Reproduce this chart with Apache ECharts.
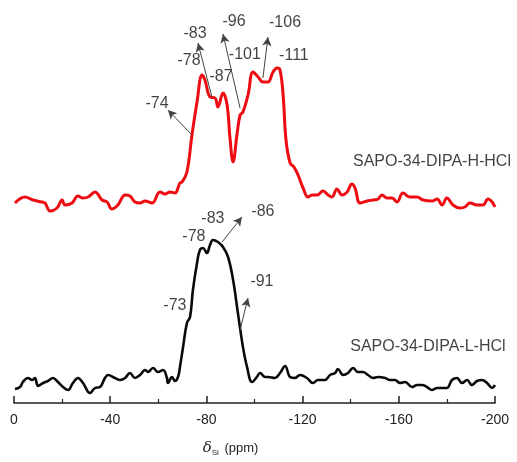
<!DOCTYPE html>
<html>
<head>
<meta charset="utf-8">
<script src="https://cdn.jsdelivr.net/npm/echarts@6/dist/echarts.min.js"></script>
<style>
html,body{margin:0;padding:0;background:#fff;}
#chart{width:517px;height:462px;}
</style>
</head>
<body>
<div id="chart"></div>
<script>
// 化学位移 (ppm) 和强度, 上面红线 H-HCl, 下面黑线 L-HCl
var redX = [-0.4,-4.6,-7.9,-11.6,-12.9,-15.0,-17.9,-20.0,-21.2,-24.1,-26.6,-28.7,-30.8,-33.7,-36.6,-38.7,-40.7,-43.2,-46.2,-48.2,-50.3,-52.4,-54.5,-57.4,-60.7,-62.8,-64.9,-66.9,-69.0,-69.9,-71.9,-74.0,-76.1,-78.2,-79.4,-81.5,-83.6,-84.8,-86.9,-88.6,-89.8,-91.1,-92.7,-94.0,-95.2,-97.3,-99.4,-101.5,-103.5,-105.6,-107.7,-109.4,-110.6,-111.9,-113.1,-114.8,-116.4,-118.1,-120.2,-122.3,-123.9,-126.0,-128.5,-130.6,-132.2,-134.3,-136.4,-138.5,-140.5,-141.8,-143.9,-146.8,-149.3,-151.4,-153.0,-155.1,-157.2,-159.3,-161.7,-164.7,-167.6,-170.1,-173.8,-175.9,-178.0,-180.0,-182.5,-185.4,-187.5,-189.6,-192.5,-195.0,-197.1,-198.8,-200.0];
var redY = [200,206,203,201,200,192,195,203,198,200,207,205,206,211,203,201,194,198,208,207,201,200,202,200,211,209,211,210,220,221,231,268,301,328,323,306,305,296,310,298,265,241,268,288,291,308,331,326,321,321,331,335,333,308,263,240,236,228,215,206,208,208,212,208,206,214,208,211,219,215,200,202,203,204,208,205,205,201,210,206,206,203,202,204,198,205,198,195,196,200,198,198,204,201,196];

var blackX = [-0.4,-2.5,-3.7,-5.8,-7.5,-8.7,-10.0,-12.1,-14.1,-16.2,-18.3,-20.4,-22.5,-24.5,-26.6,-28.7,-31.6,-33.7,-35.8,-37.8,-39.1,-42.0,-44.1,-46.2,-48.2,-50.3,-52.4,-54.5,-55.7,-57.8,-59.9,-62.0,-63.6,-64.0,-65.7,-66.9,-68.2,-69.0,-70.3,-71.9,-73.2,-74.4,-76.1,-77.3,-78.6,-80.2,-81.5,-82.7,-84.8,-86.9,-89.0,-91.1,-93.1,-95.2,-96.9,-99.0,-101.0,-102.3,-104.4,-105.6,-108.5,-110.6,-112.7,-114.8,-116.8,-118.9,-121.8,-124.3,-126.4,-129.3,-131.4,-133.5,-134.7,-136.8,-138.9,-141.0,-143.0,-145.1,-147.2,-149.3,-151.4,-154.3,-156.3,-158.4,-160.5,-162.6,-165.5,-167.6,-169.6,-171.7,-173.8,-175.9,-178.0,-180.0,-182.1,-184.2,-186.3,-188.4,-190.4,-192.5,-194.6,-196.7,-198.8,-200.0];
var blackY = [14,16,21,25,23,25,17,20,22,25,21,16,13,20,25,20,10,15,16,25,28,25,23,25,30,25,28,33,31,35,31,33,25,20,26,22,26,36,56,80,86,113,140,153,155,150,158,163,161,156,146,123,90,56,36,21,26,30,26,26,25,30,37,26,25,28,25,20,23,23,28,30,34,28,30,35,31,31,28,25,26,25,23,23,20,21,16,18,18,16,13,15,15,15,23,25,20,23,18,22,23,20,15,18];

// 峰的标注
var tagText = ['-74','-78','-83','-87','-96','-101','-106','-111','-78','-83','-86','-73','-91'];
var tagX = [-59.5,-72.8,-75.3,-86.1,-91.5,-96.0,-112.7,-116.4,-74.8,-82.7,-103.5,-66.9,-103.1];
var tagY = [299,342,369,326,381,348,380,347,166,184,191,97,121];

// 箭头 [起点x, 起点y, 终点x, 终点y]
var arrowFrom = [[-74.0,268],[-82.3,306],[-94.0,295],[-103.5,325],[-86.5,161],[-94.0,73]];
var arrowTo = [[-64.0,293],[-76.5,360],[-86.9,369],[-105.6,366],[-94.8,186],[-97.3,105]];

var sampleName = ['SAPO-34-DIPA-H-HCl','SAPO-34-DIPA-L-HCl'];
var sampleX = [-173.8,-172.1];
var sampleY = [241,56];

function pairs(xs, ys) {
    return xs.map(function (x, i) { return [x, ys[i]]; });
}

var myChart = echarts.init(document.getElementById('chart'));

var tagData = tagText.map(function (t, i) {
    return {value: [tagX[i], tagY[i]], name: t};
});
var nameData = sampleName.map(function (t, i) {
    return {value: [sampleX[i], sampleY[i]], name: t};
});
var arrowData = arrowFrom.map(function (p, i) {
    return [{coord: p}, {coord: arrowTo[i]}];
});

option = {
    animation: false,
    backgroundColor: '#fff',
    grid: {left: 14, right: 22, top: 0, bottom: 59},
    xAxis: {
        type: 'value',
        min: -200,
        max: 0,
        interval: 40,
        inverse: true,
        splitLine: {show: false},
        axisLine: {lineStyle: {color: '#222', width: 1.5}},
        axisTick: {inside: true, length: 7, lineStyle: {color: '#222', width: 1.5}},
        minorTick: {show: true, splitNumber: 2, length: 4, lineStyle: {color: '#222', width: 1.2}},
        axisLabel: {color: '#222', fontSize: 14, fontFamily: 'Liberation Sans', margin: 10},
        name: '{d|δ}{s|Si} (ppm)',
        nameLocation: 'middle',
        nameGap: 36,
        nameTextStyle: {
            padding: [0, 48, 0, 0],
            color: '#222',
            fontSize: 13,
            fontFamily: 'Liberation Sans',
            rich: {
                d: {fontSize: 15, fontStyle: 'italic', fontFamily: 'DejaVu Serif', color: '#222'},
                s: {fontSize: 8, verticalAlign: 'bottom', padding: [10, 2, 0, 0], color: '#222'}
            }
        }
    },
    yAxis: {type: 'value', min: 0, max: 403, show: false},
    series: [
        {
            name: 'H',
            type: 'line',
            data: pairs(redX, redY),
            showSymbol: false,
            smooth: 0.4,
            lineStyle: {color: '#ec0c12', width: 3}
        },
        {
            name: 'L',
            type: 'line',
            data: pairs(blackX, blackY),
            showSymbol: false,
            smooth: 0.4,
            lineStyle: {color: '#0a0a0a', width: 2.6}
        },
        {
            type: 'scatter',
            data: tagData,
            symbolSize: 0,
            label: {
                show: true,
                position: 'inside',
                formatter: '{b}',
                color: '#111',
                fontSize: 16,
                fontFamily: 'Liberation Sans'
            },
            markLine: {
                silent: true,
                symbol: ['none', 'arrow'],
                symbolSize: [7, 9],
                label: {show: false},
                lineStyle: {color: '#444', width: 1, type: 'solid'},
                data: arrowData
            }
        },
        {
            type: 'scatter',
            data: nameData,
            symbolSize: 0,
            label: {
                show: true,
                position: 'inside',
                formatter: '{b}',
                color: '#111',
                fontSize: 16,
                fontFamily: 'Liberation Sans'
            }
        }
    ]
};
myChart.setOption(option);
</script>
</body>
</html>
